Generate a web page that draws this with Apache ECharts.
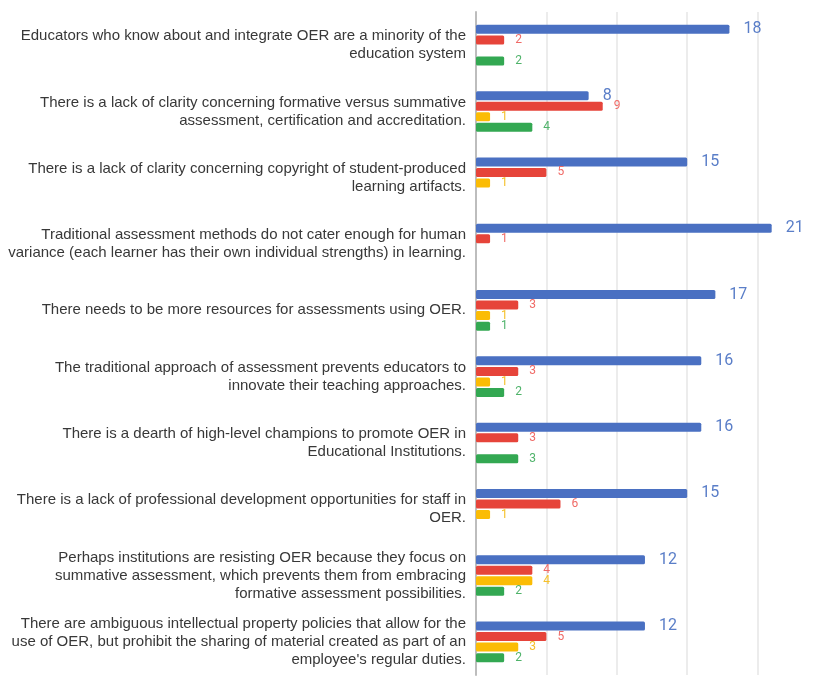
<!DOCTYPE html>
<html>
<head>
<meta charset="utf-8">
<script src="https://cdn.jsdelivr.net/npm/echarts@6/dist/echarts.min.js"></script>
<style>
  html, body { margin: 0; padding: 0; background: #ffffff; }
  #chart { width: 824px; height: 680px; }
</style>
</head>
<body>
<div id="chart"></div>
<script>
// Statements (line breaks as they wrap beside the axis)
const categories = [
  "Educators who know about and integrate OER are a minority of the\neducation system",
  "There is a lack of clarity concerning formative versus summative\nassessment, certification and accreditation.",
  "There is a lack of clarity concerning copyright of student-produced\nlearning artifacts.",
  "Traditional assessment methods do not cater enough for human\nvariance (each learner has their own individual strengths) in learning.",
  "There needs to be more resources for assessments using OER.",
  "The traditional approach of assessment prevents educators to\ninnovate their teaching approaches.",
  "There is a dearth of high-level champions to promote OER in\nEducational Institutions.",
  "There is a lack of professional development opportunities for staff in\nOER.",
  "Perhaps institutions are resisting OER because they focus on\nsummative assessment, which prevents them from embracing\nformative assessment possibilities.",
  "There are ambiguous intellectual property policies that allow for the\nuse of OER, but prohibit the sharing of material created as part of an\nemployee's regular duties."
];

// Response counts per statement (null = no responses, no bar drawn)
const blueValues   = [18, 8, 15, 21, 17, 16, 16, 15, 12, 12];
const redValues    = [2, 9, 5, 1, 3, 3, 3, 6, 4, 5];
const yellowValues = [null, 1, 1, null, 1, 1, null, 1, 4, 3];
const greenValues  = [2, 4, null, null, 1, 2, 3, null, 2, 2];

// Value axis ticks
const axisMin = 0;
const axisMax = 25;
const axisInterval = 5;

function makeSeries(name, data, barColor, labelColor, labelSize, labelDist) {
  return {
    name: name,
    type: 'bar',
    data: data,
    barWidth: 9,
    barGap: '17%',
    itemStyle: { color: barColor, borderRadius: 1.5 },
    label: {
      show: true,
      position: 'right',
      distance: labelDist,
      color: labelColor,
      fontSize: labelSize,
      fontFamily: 'Roboto',
      formatter: p => (p.value == null ? '' : String(p.value))
    }
  };
}

const chart = echarts.init(document.getElementById('chart'), null, { renderer: 'canvas' });
chart.setOption({
  animation: false,
  backgroundColor: '#ffffff',
  // plot area runs a little past the right edge of the canvas (last gridline at 25 is cut off)
  grid: { left: 476, width: 352, top: 12, bottom: 5, containLabel: false, outerBoundsMode: 'none' },
  xAxis: {
    type: 'value',
    min: axisMin,
    max: axisMax,
    interval: axisInterval,
    axisLabel: { show: false },
    axisTick: { show: false },
    axisLine: { show: false },
    splitLine: { show: true, lineStyle: { color: '#e6e6e6', width: 1.5 } }
  },
  yAxis: {
    type: 'category',
    inverse: true,
    data: categories,
    axisTick: { show: false },
    axisLine: { show: true, lineStyle: { color: '#bdbdbd', width: 2 } },
    axisLabel: {
      margin: 10,
      align: 'right',
      color: '#383838',
      fontSize: 15,
      lineHeight: 18,
      padding: [4, 0, 0, 0],
      fontFamily: 'Liberation Sans, Arial, sans-serif'
    }
  },
  series: [
    makeSeries('Blue', blueValues, '#4a70c2', '#5a7ec8', 16, 14),
    makeSeries('Red', redValues, '#e6443a', '#f06a66', 12, 11),
    makeSeries('Yellow', yellowValues, '#fbbc05', '#f5c02a', 12, 11),
    makeSeries('Green', greenValues, '#33a852', '#4fb36a', 12, 11)
  ]
});
</script>
</body>
</html>
